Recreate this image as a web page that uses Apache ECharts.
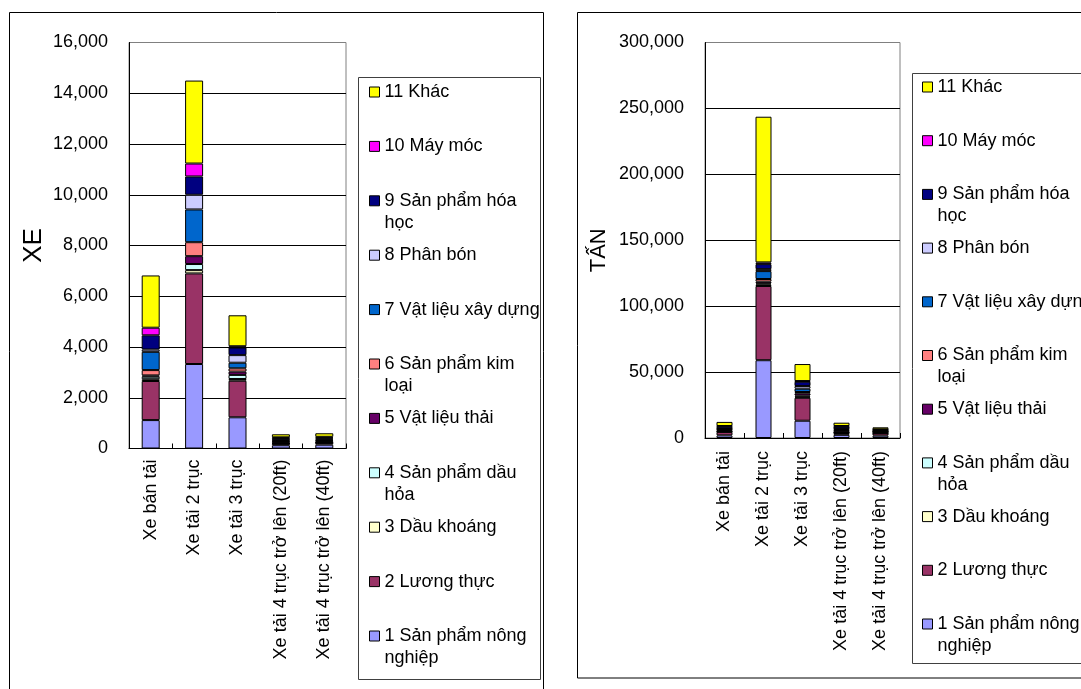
<!DOCTYPE html>
<html>
<head>
<meta charset="utf-8">
<title>Xe và tấn hàng theo loại xe</title>
<script src="https://cdn.jsdelivr.net/npm/echarts@6/dist/echarts.min.js"></script>
<style>
  html, body { margin: 0; padding: 0; background: #fff; }
  #chart { width: 1081px; height: 689px; }
</style>
</head>
<body>
<div id="chart"></div>
<script>
// Vehicle classes on the category axis
const categories = ['Xe bán tải', 'Xe tải 2 trục', 'Xe tải 3 trục', 'Xe tải 4 trục trở lên (20ft)', 'Xe tải 4 trục trở lên (40ft)'];

// Commodity groups (stacked from bottom to top)
const commodities = ['1 Sản phẩm nông nghiệp', '2 Lương thực', '3 Dầu khoáng', '4 Sản phẩm dầu hỏa', '5 Vật liệu thải', '6 Sản phẩm kim loại', '7 Vật liệu xây dựng', '8 Phân bón', '9 Sản phẩm hóa học', '10 Máy móc', '11 Khác'];
const legendLabels = ['1 Sản phẩm nông\nnghiệp', '2 Lương thực', '3 Dầu khoáng', '4 Sản phẩm dầu\nhỏa', '5 Vật liệu thải', '6 Sản phẩm kim\nloại', '7 Vật liệu xây dựng', '8 Phân bón', '9 Sản phẩm hóa\nhọc', '10 Máy móc', '11 Khác'];
const colors = ['#9999FF', '#993366', '#FFFFCC', '#CCFFFF', '#660066', '#FF8080', '#0066CC', '#CCCCFF', '#000080', '#FF00FF', '#FFFF00'];

// Number of vehicles (XE) per commodity, one value per vehicle class
const xe01 = [1120, 3330, 1230, 130, 150];
const xe02 = [1540, 3570, 1440, 60, 70];
const xe03 = [70, 130, 70, 10, 10];
const xe04 = [100, 240, 160, 20, 20];
const xe05 = [50, 310, 130, 50, 50];
const xe06 = [210, 550, 130, 20, 20];
const xe07 = [720, 1290, 220, 40, 40];
const xe08 = [90, 580, 300, 20, 30];
const xe09 = [560, 720, 300, 60, 40];
const xe10 = [300, 510, 50, 30, 30];
const xe11 = [2060, 3270, 1220, 120, 140];

// Tonnage (TẤN) per commodity, one value per vehicle class
const tan01 = [2000, 59000, 13100, 2400, 1800];
const tan02 = [2600, 56300, 17400, 1400, 1800];
const tan03 = [300, 1200, 800, 300, 200];
const tan04 = [300, 800, 900, 300, 200];
const tan05 = [900, 1300, 1700, 1200, 800];
const tan06 = [300, 2000, 1000, 400, 200];
const tan07 = [600, 6000, 2500, 900, 400];
const tan08 = [300, 1500, 2000, 300, 200];
const tan09 = [1500, 3800, 3300, 1500, 800];
const tan10 = [300, 1300, 500, 400, 200];
const tan11 = [3100, 110500, 12900, 2500, 1500];

const xeSeries = [xe01, xe02, xe03, xe04, xe05, xe06, xe07, xe08, xe09, xe10, xe11];
const tanSeries = [tan01, tan02, tan03, tan04, tan05, tan06, tan07, tan08, tan09, tan10, tan11];

const FONT = "'Liberation Sans', Arial, sans-serif";
const fmt = v => Number(v).toLocaleString('en-US');

function buildSeries(valueLists, axisIndex, stack, barWidth) {
  return valueLists.map((vals, i) => ({
    type: 'bar',
    name: commodities[i],
    stack: stack,
    xAxisIndex: axisIndex,
    yAxisIndex: axisIndex,
    barWidth: barWidth,
    data: vals,
    itemStyle: { color: colors[i], borderColor: '#000', borderWidth: 1 },
    emphasis: { disabled: true }
  }));
}

// Every legend entry is three lines tall so the icon always sits on the
// first line of its label: single-line labels get a blank line above and
// below, wrapped labels get a blank line above.
function legendText(name) {
  const label = legendLabels[commodities.indexOf(name)];
  return label.indexOf('\n') >= 0 ? ' \n' + label : ' \n' + label + '\n ';
}

function buildLegend(left, top, gap) {
  return {
    orient: 'vertical',
    left: left,
    top: top,
    padding: 0,
    itemGap: gap,
    itemWidth: 10,
    itemHeight: 10,
    icon: 'rect',
    selectedMode: false,
    itemStyle: { borderColor: '#000', borderWidth: 1 },
    textStyle: { fontFamily: FONT, fontSize: 18, lineHeight: 22, color: '#000' },
    formatter: legendText,
    data: commodities.slice().reverse()
  };
}

function valueAxis(gridIndex, max, interval, name, nameSize, nameGap, namePad) {
  return {
    type: 'value',
    gridIndex: gridIndex,
    min: 0,
    max: max,
    interval: interval,
    name: name,
    nameLocation: 'middle',
    nameRotate: 90,
    nameGap: nameGap,
    nameTextStyle: { fontFamily: FONT, fontSize: nameSize, color: '#000', padding: namePad },
    axisLine: { show: true, lineStyle: { color: '#000', width: 1 } },
    axisTick: { show: false },
    splitLine: { show: true, showMaxLine: false, lineStyle: { color: '#000', width: 1 } },
    axisLabel: { fontFamily: FONT, fontSize: 18, color: '#000', margin: 21, formatter: fmt }
  };
}

function categoryAxis(gridIndex, margin) {
  return {
    type: 'category',
    gridIndex: gridIndex,
    data: categories,
    axisLine: { show: true, lineStyle: { color: '#000', width: 1 } },
    axisTick: { show: true, inside: true, length: 5, lineStyle: { color: '#000' } },
    splitLine: { show: false },
    axisLabel: { rotate: 90, interval: 0, fontFamily: FONT, fontSize: 18, color: '#000', margin: margin }
  };
}

const frame = (x, y, w, h, stroke) => ({
  type: 'rect',
  silent: true,
  z: -10,
  shape: { x: x, y: y, width: w, height: h },
  style: { fill: 'none', stroke: stroke, lineWidth: 1 }
});

const chart = echarts.init(document.getElementById('chart'), null, { renderer: 'canvas' });
chart.setOption({
  animation: false,
  backgroundColor: '#fff',
  textStyle: { fontFamily: FONT, color: '#000' },
  grid: [
    { left: 129, top: 42.5, width: 217, height: 406, show: true, borderColor: '#808080', borderWidth: 1, containLabel: false, outerBoundsMode: 'none' },
    { left: 705, top: 42.5, width: 195, height: 395.5, show: true, borderColor: '#808080', borderWidth: 1, containLabel: false, outerBoundsMode: 'none' }
  ],
  xAxis: [categoryAxis(0, 11), categoryAxis(1, 13)],
  yAxis: [
    valueAxis(0, 16000, 2000, 'XE', 26, 82, [0, 0, 0, 0]),
    valueAxis(1, 300000, 50000, 'TẤN', 22, 95, [0, 20, 0, 0])
  ],
  legend: [buildLegend(369, 59, -11.6), buildLegend(922, 54, -12.3)],
  tooltip: { show: false },
  series: buildSeries(xeSeries, 0, 'xe', 18).concat(buildSeries(tanSeries, 1, 'tan', 16)),
  graphic: [
    frame(9.5, 12.5, 534, 720, '#000'),
    frame(577.5, 12.5, 620, 665.5, '#000'),
    frame(358.5, 77.5, 182, 602, '#404040'),
    frame(912.5, 73.5, 300, 590, '#404040')
  ]
});
</script>
</body>
</html>
